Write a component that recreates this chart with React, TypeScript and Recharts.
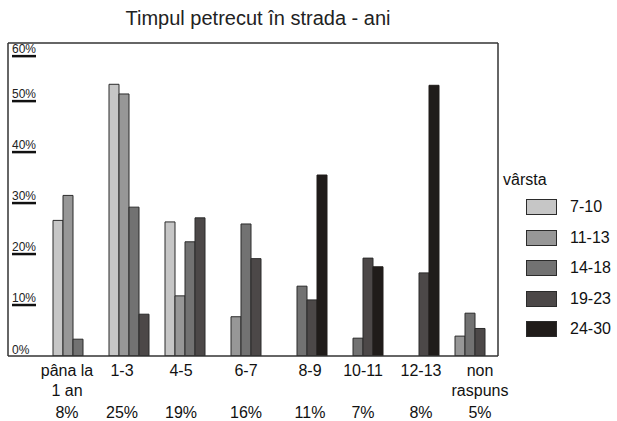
import { BarChart, Bar, XAxis, YAxis } from 'recharts';

const labelTop = ['pâna la', '1-3', '4-5', '6-7', '8-9', '10-11', '12-13', 'non'];
const labelMid = ['1 an', '', '', '', '', '', '', 'raspuns'];
const shares = ['8%', '25%', '19%', '16%', '11%', '7%', '8%', '5%'];

const age7to10 = [26.6, 53.3, 26.3, null, null, null, null, null];
const age11to13 = [31.5, 51.4, 11.8, 7.7, null, null, null, 3.9];
const age14to18 = [3.3, 29.2, 22.4, 25.9, 13.7, 3.5, null, 8.4];
const age19to23 = [null, 8.2, 27.1, 19.1, 11.0, 19.2, 16.3, 5.4];
const age24to30 = [null, null, null, null, 35.5, 17.5, 53.1, null];

const yTicks = [0, 10, 20, 30, 40, 50, 60];

const series = [
  { key: 'a', name: '7-10', values: age7to10, fill: '#c6c6c6', stroke: '#2b2b2b' },
  { key: 'b', name: '11-13', values: age11to13, fill: '#979797', stroke: '#2b2b2b' },
  { key: 'c', name: '14-18', values: age14to18, fill: '#727272', stroke: '#2b2b2b' },
  { key: 'd', name: '19-23', values: age19to23, fill: '#4c4848', stroke: '#2b2b2b' },
  { key: 'e', name: '24-30', values: age24to30, fill: '#201c1a', stroke: '#201c1a' },
];

// small hand nudges for the category labels, like in the original
const labelShift = [-11, -12, -9, 0, 8, 5, 7, 10];

const data = labelTop.map((cat, i) => {
  const row: Record<string, any> = { cat };
  series.forEach((s) => { row[s.key] = s.values[i]; });
  return row;
});

const FONT = '"Liberation Sans", Arial, sans-serif';
const PLOT_LEFT = 8;
const AXIS = { stroke: '#333', strokeWidth: 1.5 };

const YTick = ({ y, payload }: any) => {
  const v = payload.value;
  if (v === 0) {
    return (
      <text x={PLOT_LEFT + 4} y={y - 2} fontSize={12} fill="#222" fontFamily={FONT}>0%</text>
    );
  }
  // the top label sits a bit lower in the original, clear of the frame
  const ly = v === 60 ? y + 6 : y;
  return (
    <g>
      <text x={PLOT_LEFT + 4} y={ly - 3} fontSize={12} fill="#222" fontFamily={FONT}>{v}%</text>
      <line x1={PLOT_LEFT + 4} x2={PLOT_LEFT + 28} y1={ly} y2={ly} stroke="#111" strokeWidth={2.5} />
    </g>
  );
};

const XTick = ({ x, y, payload, index }: any) => {
  const i = index ?? labelTop.indexOf(payload.value);
  const cx = x + (labelShift[i] || 0);
  return (
    <g fontFamily={FONT} fontSize={16} fill="#111" textAnchor="middle">
      <text x={cx} y={y + 20}>{labelTop[i]}</text>
      {labelMid[i] && <text x={cx} y={y + 40}>{labelMid[i]}</text>}
      <text x={cx} y={y + 62}>{shares[i]}</text>
    </g>
  );
};

const LegendBox = () => (
  <div style={{ position: 'absolute', left: 503, top: 168, fontFamily: FONT, fontSize: 16, color: '#111' }}>
    <div style={{ height: 24, lineHeight: '24px' }}>vârsta</div>
    {series.map((s) => (
      <div key={s.key} style={{ display: 'flex', alignItems: 'center', height: 30.5, marginLeft: 23 }}>
        <span style={{ display: 'inline-block', width: 29, height: 14, background: s.fill, border: '1px solid #2b2b2b' }} />
        <span style={{ marginLeft: 13 }}>{s.name}</span>
      </div>
    ))}
  </div>
);

export default function App() {
  return (
    <div style={{ position: 'absolute', left: 0, top: 0, width: 617, height: 421, background: '#fff' }}>
      <div style={{ position: 'absolute', left: 0, top: 7, width: 516, textAlign: 'center', fontFamily: FONT, fontSize: 20, color: '#222' }}>
        Timpul petrecut în strada - ani
      </div>
      <BarChart
        width={617}
        height={421}
        data={data}
        margin={{ top: 42, right: 118, left: PLOT_LEFT - 1, bottom: 0 }}
        barGap={0}
        barSize={10}
      >
        <XAxis
          dataKey="cat"
          padding={{ left: 42, right: 0 }}
          axisLine={AXIS}
          tickLine={false}
          tickSize={0}
          tickMargin={0}
          tick={<XTick />}
          interval={0}
          height={65}
        />
        <XAxis xAxisId="top" dataKey="cat" orientation="top" height={1} tick={false} tickLine={false}
          axisLine={AXIS} padding={{ left: 42, right: 0 }} />
        <YAxis
          domain={[0, 61.4]}
          ticks={yTicks}
          width={1}
          tickLine={false}
          tick={<YTick />}
          axisLine={AXIS}
          allowDataOverflow
        />
        <YAxis yAxisId="right" orientation="right" domain={[0, 61.4]} width={1} tick={false} tickLine={false}
          axisLine={AXIS} />
        {series.map((s) => (
          <Bar key={s.key} dataKey={s.key} name={s.name} fill={s.fill} stroke={s.stroke} strokeWidth={1}
            isAnimationActive={false} />
        ))}
      </BarChart>
      <LegendBox />
    </div>
  );
}
